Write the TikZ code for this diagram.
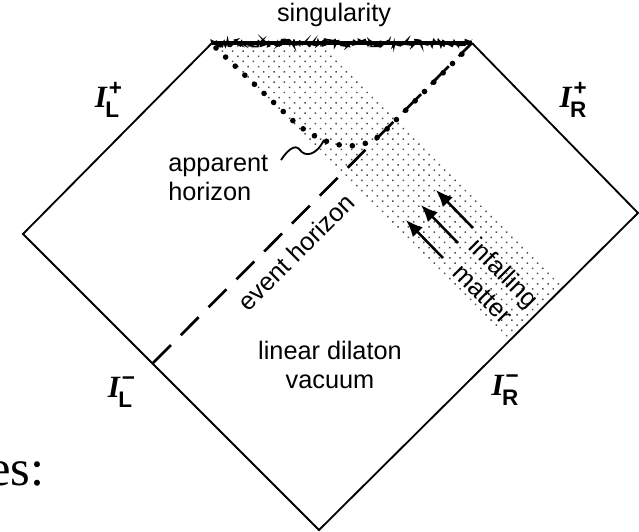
\documentclass[tikz,border=0pt]{standalone}
\usepackage{fontspec}
\setmainfont{Liberation Sans}
\newfontfamily\serifrm{Liberation Serif}
\usetikzlibrary{arrows.meta,patterns.meta,decorations.pathmorphing,positioning}

% null infinity label: I with a sign above and a side below
\newcommand{\scri}[2]{{\fontsize{22}{22}\serifrm\bfseries\itshape I}%
  \rlap{\kern1.5pt\raisebox{8.5pt}{\fontsize{16}{16}\selectfont\bfseries #1}}%
  \kern-1pt\raisebox{-7pt}{\fontsize{16}{16}\selectfont\bfseries #2}}

\begin{document}
\begin{tikzpicture}[
  x=0.025cm, y=-0.025cm,
  lbl/.style={font=\fontsize{18}{21}\selectfont, inner sep=0pt},
  scrilbl/.style={inner sep=0pt},
  edge/.style={line width=1.3pt, line join=miter},
  sing/.style={line width=1.2pt, decorate,
    decoration={random steps, segment length=1pt, amplitude=2.6pt}},
  eventh/.style={line width=1.9pt, dash pattern=on 18pt off 10pt},
  apph/.style={line width=4pt, line cap=round, dash pattern=on 0pt off 9.4pt},
  infall/.style={line width=1.8pt, -{Latex[length=12pt,width=10pt]}},
  matter/.style={pattern={Dots[distance=5.2pt,angle=45,radius=0.75pt]},
    pattern color=black!70}
]
  \clip (0,0) rectangle (639,532);

  % corners of the diagram
  \coordinate (sl) at (212,43);
  \coordinate (sr) at (472,43);
  \coordinate (L)  at (23,234);
  \coordinate (B)  at (319,530);
  \coordinate (R)  at (638,213);

  % infalling matter band
  \coordinate (m1) at (325,43);
  \coordinate (m2) at (566,285);
  \coordinate (m3) at (510,341);
  \fill[matter] (sl) -- (m1) -- (m2) -- (m3) -- cycle;

  % boundary and singularity
  \draw[edge] (sl) -- (L) -- (B) -- (R) -- (sr);
  \draw[line width=3pt] (sl) -- (sr);
  \draw[sing] (sl) -- (sr);

  % horizons
  \coordinate (eh0) at (153,363);
  \draw[eventh] (eh0) -- (sr);
  \coordinate (ah0) at (216,48);
  \coordinate (ah1) at (288,116);
  \coordinate (ah2) at (385,131);
  \coordinate (ah3) at (468,48);
  \draw[apph] (ah0) -- (ah1) .. controls (312,140) and (355,161) .. (ah2) -- (ah3);

  % arrows of the infalling matter
  \foreach \i/\s in {1/0,2/15,3/30} {
    \coordinate (t\i) at (443+\s,258-\s);
    \coordinate (h\i) at (406+\s,220-\s);
    \draw[infall] (t\i) -- (h\i);
  }

  % labels
  \node[lbl, anchor=base] (singl) at (334,22) {singularity};
  \node[lbl, align=left, anchor=west] (apphor) at (168,178) {apparent\\horizon};
  \node[lbl, rotate=45] (ehl) at (296,252) {event horizon};
  \node[lbl, rotate=-45, align=center] (infl) at (494,283) {infalling\\matter};
  \node[lbl, align=center] (vac) at (330,365) {linear dilaton\\vacuum};

  \coordinate (sq0) at (281,160);
  \coordinate (sq1) at (324,140);
  \draw[line width=1.3pt] (sq0) .. controls (287,151) and (295,143) .. (300,150)
    .. controls (305,157) and (316,156) .. (sq1);

  \node[scrilbl] (scrilp) at (107,100) {\scri{+}{L}};
  \node[scrilbl] (scrirp) at (573,100) {\scri{+}{R}};
  \node[scrilbl] (scrilm) at (120,392) {\scri{−}{L}};
  \node[scrilbl] (scrirm) at (505,390) {\scri{−}{R}};

  \node[anchor=base east, inner sep=0pt, font=\serifrm\fontsize{36}{36}\selectfont] (es) at (45,485) {es:};
\end{tikzpicture}
\end{document}
